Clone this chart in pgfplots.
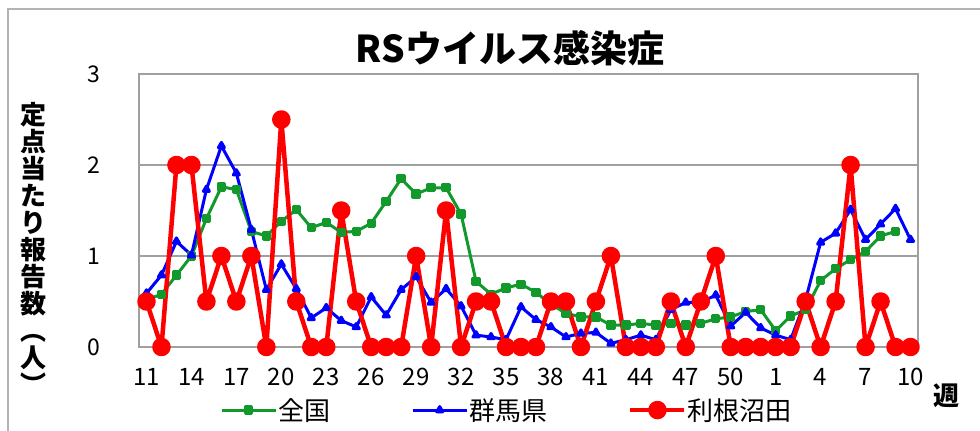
\documentclass[border=0pt]{standalone}
\usepackage{fontspec}
\setmainfont{Noto Sans CJK JP}
\usepackage{pgfplots}
\pgfplotsset{compat=1.18}
\definecolor{cgreen}{RGB}{17,153,43}
\definecolor{cblue}{RGB}{0,0,255}
\definecolor{cred}{RGB}{255,0,0}
\definecolor{gridgray}{RGB}{160,160,160}
\pgfplotsset{longleg/.style={legend image code/.code={\draw[mark repeat=2,mark phase=2,##1] plot coordinates {(0pt,0pt)(27pt,0pt)(54pt,0pt)};}}}

\pgfplotstableread{
i g
0 0.52
1 0.58
2 0.79
3 1.00
4 1.41
5 1.76
6 1.73
7 1.27
8 1.22
9 1.38
10 1.51
11 1.31
12 1.37
13 1.26
14 1.27
15 1.36
16 1.60
17 1.85
18 1.68
19 1.75
20 1.75
21 1.46
22 0.72
23 0.58
24 0.65
25 0.69
26 0.60
27 0.47
28 0.37
29 0.33
30 0.33
31 0.24
32 0.24
33 0.26
34 0.24
35 0.26
36 0.24
37 0.26
38 0.31
39 0.33
40 0.39
41 0.41
42 0.18
43 0.34
44 0.41
45 0.73
46 0.86
47 0.96
48 1.05
49 1.22
50 1.27
}\zenkoku

\pgfplotstableread{
i b
0 0.59
1 0.79
2 1.16
3 1.01
4 1.73
5 2.21
6 1.91
7 1.29
8 0.63
9 0.91
10 0.64
11 0.32
12 0.43
13 0.29
14 0.22
15 0.55
16 0.35
17 0.63
18 0.77
19 0.49
20 0.64
21 0.45
22 0.13
23 0.11
24 0.08
25 0.44
26 0.30
27 0.22
28 0.11
29 0.15
30 0.16
31 0.04
32 0.08
33 0.13
34 0.08
35 0.41
36 0.49
37 0.49
38 0.57
39 0.23
40 0.38
41 0.21
42 0.13
43 0.08
44 0.52
45 1.15
46 1.25
47 1.51
48 1.18
49 1.35
50 1.52
51 1.18
}\gunma

\pgfplotstableread{
i r
0 0.5
1 0
2 2
3 2
4 0.5
5 1
6 0.5
7 1
8 0
9 2.5
10 0.5
11 0
12 0
13 1.5
14 0.5
15 0
16 0
17 0
18 1
19 0
20 1.5
21 0
22 0.5
23 0.5
24 0
25 0
26 0
27 0.5
28 0.5
29 0
30 0.5
31 1
32 0
33 0
34 0
35 0.5
36 0
37 0.5
38 1
39 0
40 0
41 0
42 0
43 0
44 0.5
45 0
46 0.5
47 2
48 0
49 0.5
50 0
51 0
}\tone

\begin{document}
\begin{tikzpicture}[x=1pt,y=1pt]
\useasboundingbox (0,0) rectangle (980,431);
\draw[gridgray!80, line width=1.5pt] (8,0) -- (8,422) -- (980,422);
\begin{axis}[
  at={(139pt,84pt)}, anchor=south west,
  scale only axis, width=779pt, height=273pt,
  xmin=-0.5, xmax=51.5, ymin=0, ymax=3,
  xtick={0,3,...,51},
  xticklabels={11,14,17,20,23,26,29,32,35,38,41,44,47,50,1,4,7,10},
  ytick={0,1,2,3},
  major tick length=0pt,
  ymajorgrids,
  grid style={gridgray, line width=1.3pt},
  axis line style={gridgray, line width=1.5pt},
  /pgf/number format/assume math mode=true,
  xticklabel style={font=\fontsize{24}{24}\selectfont, yshift=-18pt},
  yticklabel style={font=\fontsize{23}{23}\selectfont, xshift=-35pt},
  clip=false,
  legend columns=3,
  legend style={at={(0.104,-0.231)}, anchor=west, draw=none, fill=none,
    inner sep=0pt, font=\fontsize{26}{26}\selectfont,
    nodes={inner sep=1pt},
    /tikz/every even column/.append style={column sep=80pt}},
  legend cell align=left,
  every axis plot/.append style={line join=round},
]
\addplot[color=cgreen, line width=3pt, mark=square*, mark size=3.2pt, longleg]
  table[x=i,y=g]{\zenkoku};
\addlegendentry{全国}
\addplot[color=cblue, line width=3pt, mark=triangle*, mark size=3.5pt, longleg]
  table[x=i,y=b]{\gunma};
\addlegendentry{群馬県}
\addplot[color=cred, line width=4.5pt, mark=*, mark size=7pt, longleg]
  table[x=i,y=r]{\tone};
\addlegendentry{利根沼田}
\end{axis}
\node[font=\fontsize{37}{37}\selectfont\bfseries] at (510,383) {RSウイルス感染症};
\node[align=center, inner sep=0pt, font=\fontsize{26}{27}\selectfont\bfseries] at (33,183)
  {定\\点\\当\\た\\り\\報\\告\\数\\︵\\人\\︶};
\node[font=\fontsize{26}{26}\selectfont\bfseries] at (946,35) {週};
\end{tikzpicture}
\end{document}
